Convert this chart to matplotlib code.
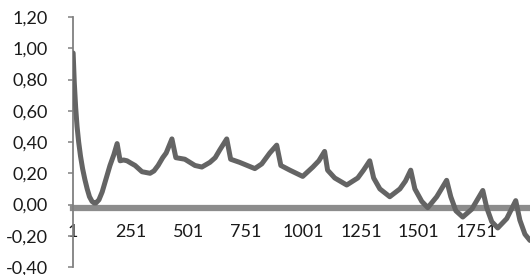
import matplotlib
matplotlib.use("Agg")
import matplotlib.pyplot as plt

# lag / autocorrelation
lags = [1, 6, 12, 18, 25, 33, 42, 52, 62, 72, 83, 92, 100, 113, 127, 145, 161,
        178, 192, 205, 220, 235, 252, 270, 300, 335, 352, 370, 390, 405, 430,
        447, 486, 530, 560, 595, 618, 638, 668, 685, 724, 790, 820, 855, 885,
        903, 942, 998, 1042, 1068, 1093, 1106, 1137, 1189, 1237, 1262, 1289,
        1306, 1333, 1376, 1420, 1444, 1467, 1485, 1515, 1541, 1580, 1623,
        1641, 1663, 1693, 1732, 1780, 1797, 1819, 1845, 1884, 1923, 1941,
        1963, 1985]
acf = [0.97, 0.78, 0.62, 0.50, 0.40, 0.31, 0.23, 0.16, 0.10, 0.05, 0.02, 0.01,
       0.01, 0.03, 0.08, 0.17, 0.25, 0.32, 0.39, 0.28, 0.285, 0.28, 0.265, 0.25,
       0.21, 0.20, 0.215, 0.25, 0.30, 0.33, 0.42, 0.30, 0.29, 0.25, 0.24, 0.27,
       0.30, 0.35, 0.42, 0.29, 0.27, 0.23, 0.26, 0.33, 0.38, 0.25, 0.22, 0.18,
       0.24, 0.28, 0.34, 0.22, 0.17, 0.125, 0.17, 0.22, 0.28, 0.17, 0.10, 0.05,
       0.10, 0.15, 0.22, 0.10, 0.02, -0.02, 0.05, 0.155, 0.05, -0.04, -0.08,
       -0.03, 0.09, -0.02, -0.11, -0.15, -0.09, 0.025, -0.10, -0.19, -0.23]

x_ticks = [1, 251, 501, 751, 1001, 1251, 1501, 1751]
y_ticks = [-0.40, -0.20, 0.00, 0.20, 0.40, 0.60, 0.80, 1.00, 1.20]

plt.rcParams['font.family'] = ['Lato', 'DejaVu Sans']

fig = plt.figure(figsize=(5.3, 2.75), dpi=100)
ax = fig.add_axes([0.138, 0.029, 0.862, 0.909])

ax.plot(lags, acf, color='#646464', lw=3.6, solid_joinstyle='round',
        solid_capstyle='round', zorder=3)

ax.set_xlim(1, 1985)
ax.set_ylim(-0.40, 1.20)

ax.set_yticks(y_ticks)
ax.set_yticklabels([f"{v:.2f}".replace('.', ',') for v in y_ticks])
ax.set_xticks(x_ticks)
ax.set_xticklabels([str(v) for v in x_ticks])

for s in ['top', 'right']:
    ax.spines[s].set_visible(False)
ax.spines['left'].set_color('#808080')
ax.spines['left'].set_linewidth(1.3)
ax.spines['bottom'].set_position(('data', -0.02))
ax.spines['bottom'].set_color('#8c8c8c')
ax.spines['bottom'].set_linewidth(4.5)
ax.spines['bottom'].set_zorder(2)

ax.tick_params(axis='y', length=3.6, width=1.1, color='#808080',
               labelsize=13, labelcolor='#1a1a1a', pad=14.5)
ax.tick_params(axis='x', length=0, labelsize=13, labelcolor='#1a1a1a', pad=12)

fig.savefig('out.png', dpi=100)
